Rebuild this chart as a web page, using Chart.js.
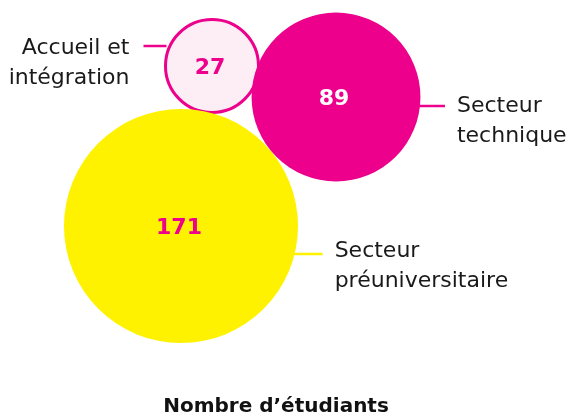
<!DOCTYPE html>
<html>
<head>
<meta charset="utf-8">
<script src="https://cdn.jsdelivr.net/npm/chart.js@4"></script>
<style>
  html, body { margin: 0; padding: 0; background: #fff; }
  #wrap { width: 568px; height: 418px; }
</style>
</head>
<body>
<div id="wrap"><canvas id="chart" width="568" height="418"></canvas></div>
<script>
// Chart data
const categories = ['Secteur préuniversitaire', 'Secteur technique', 'Accueil et intégration'];
const values = [171, 89, 27];
// bubble placement (layout units, 0-568 wide / 0-418 tall)
const posX = [181, 336, 212];
const posY = [226, 97, 66];
const labelLines = [['Secteur', 'préuniversitaire'], ['Secteur', 'technique'], ['Accueil et', 'intégration']];
const title = 'Nombre d\u2019étudiants';

const PINK = '#ec008c';
const YELLOW = '#fff200';
const FONT = '"DejaVu Sans", sans-serif';

// bubble area proportional to value
const radiusScale = 8.95;
function radiusOf(v) { return radiusScale * Math.sqrt(v); }

const fills = [YELLOW, PINK, '#fdeef6'];
const borders = [YELLOW, PINK, PINK];
const borderWidths = [0, 0, 3];
const valueColors = [PINK, '#ffffff', PINK];

// Plugin for labels, connector lines, values and bottom title
const annotatePlugin = {
    id: 'annotate',
    afterDatasetsDraw(chart) {
        const ctx = chart.ctx;
        const xs = chart.scales.x, ys = chart.scales.y;
        ctx.save();
        values.forEach((v, i) => {
            const cx = xs.getPixelForValue(posX[i]);
            const cy = ys.getPixelForValue(posY[i]);
            const r = radiusOf(v);

            // value in the middle
            ctx.font = 'bold 22px ' + FONT;
            ctx.fillStyle = valueColors[i];
            ctx.textAlign = 'center';
            ctx.textBaseline = 'middle';
            ctx.fillText(v, cx - 2, cy + 2);

            // connector + label
            ctx.strokeStyle = i === 0 ? YELLOW : PINK;
            ctx.lineWidth = 2.5;
            ctx.font = '22px ' + FONT;
            ctx.fillStyle = '#1a1a1a';
            ctx.textBaseline = 'middle';
            if (i === 2) {
                // label on the left
                const ly = cy - 20;
                ctx.beginPath();
                ctx.moveTo(cx - r - 22, ly);
                ctx.lineTo(cx - r + 1, ly);
                ctx.stroke();
                ctx.textAlign = 'right';
                ctx.fillText(labelLines[i][0], cx - r - 36, ly + 2);
                ctx.fillText(labelLines[i][1], cx - r - 36, ly + 32);
            } else {
                const ly = i === 1 ? cy + 9 : cy + 28;
                const dx = Math.sqrt(Math.max(r * r - (ly - cy) * (ly - cy), 0));
                const len = i === 1 ? 25 : 28;
                const gap = i === 1 ? 37 : 40;
                ctx.beginPath();
                ctx.moveTo(cx + dx - 1, ly);
                ctx.lineTo(cx + dx + len, ly);
                ctx.stroke();
                ctx.textAlign = 'left';
                const off = i === 1 ? 0 : -3;
                ctx.fillText(labelLines[i][0], cx + dx + gap, ly + off);
                ctx.fillText(labelLines[i][1], cx + dx + gap, ly + off + 30);
            }
        });

        // bottom title
        ctx.font = 'bold 20px ' + FONT;
        ctx.fillStyle = '#111';
        ctx.textAlign = 'center';
        ctx.textBaseline = 'middle';
        ctx.fillText(title, 276, 407);
        ctx.restore();
    }
};

new Chart(document.getElementById('chart').getContext('2d'), {
    type: 'bubble',
    data: {
        datasets: values.map((v, i) => ({
            label: categories[i],
            data: [{ x: posX[i], y: posY[i], r: radiusOf(v) }],
            backgroundColor: fills[i],
            borderColor: borders[i],
            borderWidth: borderWidths[i],
            hoverRadius: 0,
            clip: false
        }))
    },
    options: {
        responsive: false,
        animation: false,
        layout: { padding: 0, autoPadding: false },
        plugins: {
            legend: { display: false },
            tooltip: { enabled: false }
        },
        scales: {
            x: { display: false, min: 0, max: 568 },
            y: { display: false, min: 0, max: 418, reverse: true }
        }
    },
    plugins: [annotatePlugin]
});
</script>
</body>
</html>
